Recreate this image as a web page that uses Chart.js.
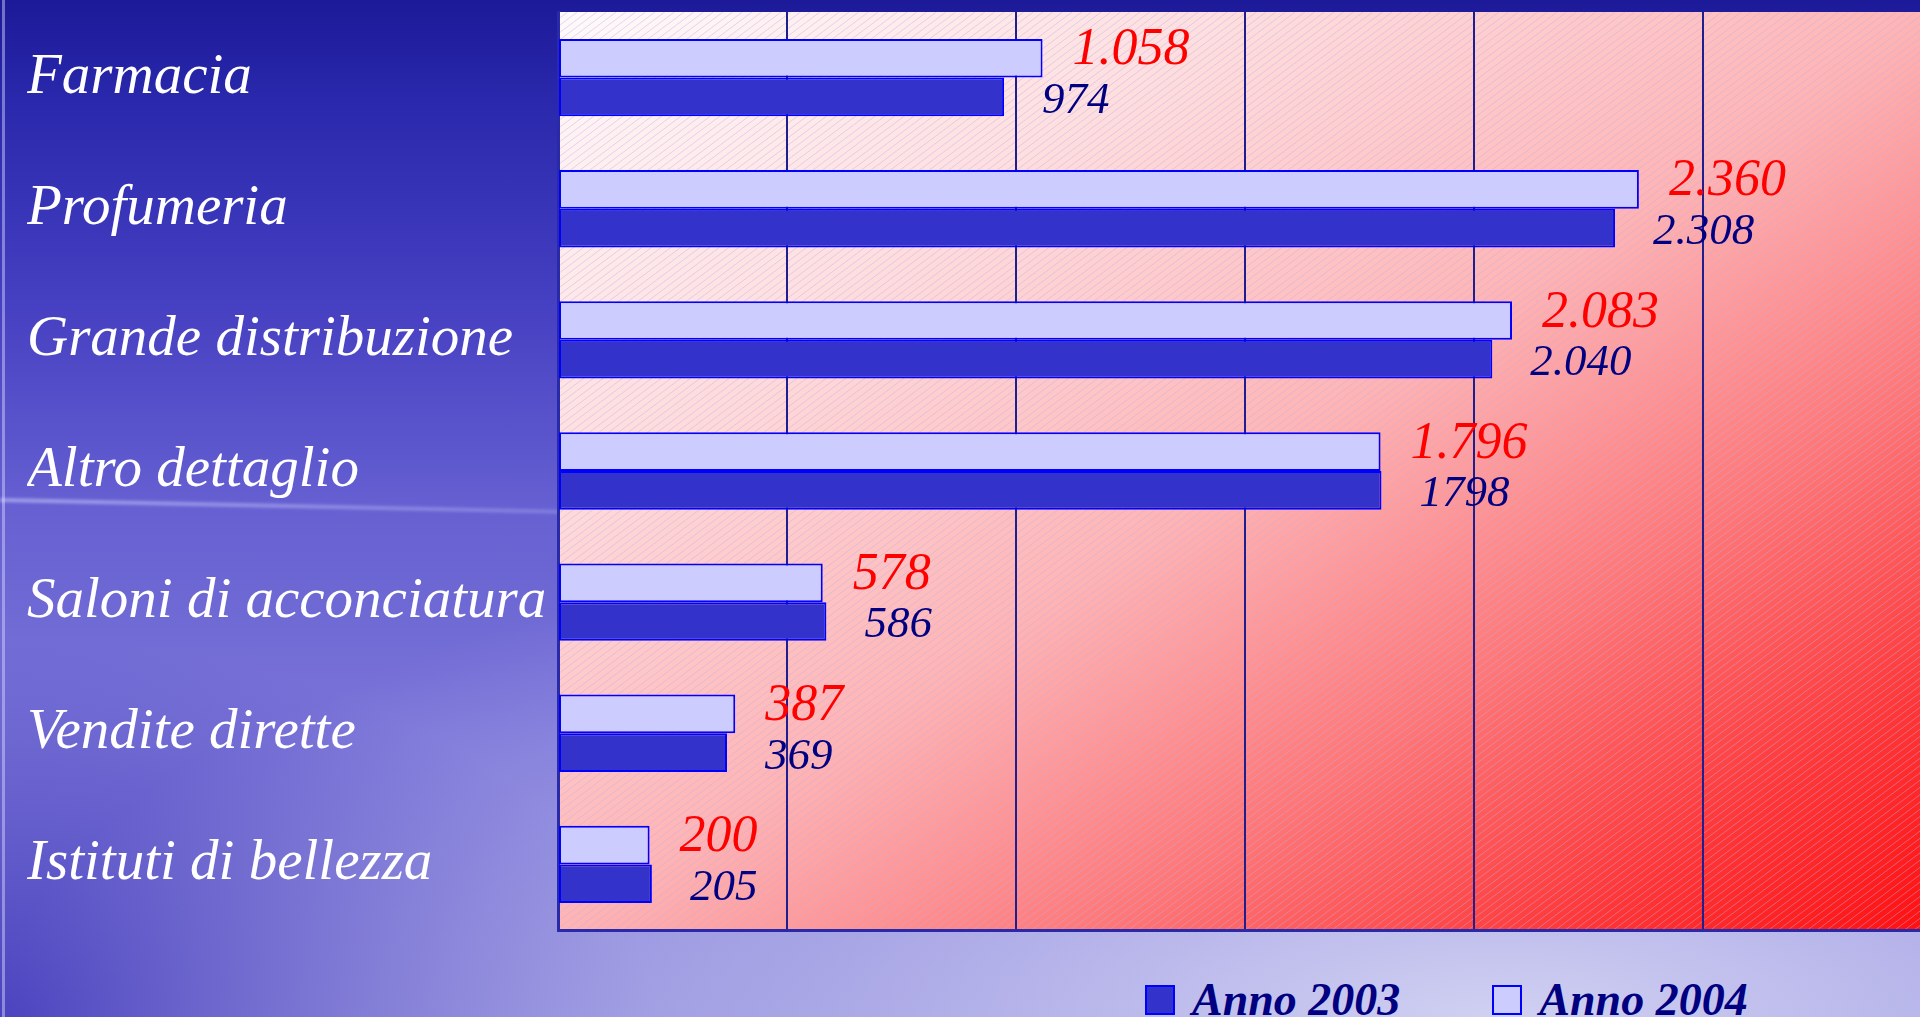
<!DOCTYPE html>
<html lang="it">
  <head>
    <meta charset="UTF-8" />
    <title>Canali di vendita 2003 - 2004</title>
    <script src="https://cdn.jsdelivr.net/npm/chart.js"></script>
    <style>
      html,
      body {
        margin: 0;
        padding: 0;
        width: 1920px;
        height: 1017px;
        overflow: hidden;
      }
      body {
        position: relative;
        background:
          radial-gradient(1500px 520px at 78% 100%, rgba(208, 208, 242, 1) 0%, rgba(200, 200, 240, 0.55) 45%, rgba(200, 200, 240, 0) 100%),
          radial-gradient(650px 380px at 0% 100%, rgba(64, 56, 186, 0.85), rgba(64, 56, 186, 0)),
          linear-gradient(180deg, #1c1a98 0%, #2a28ac 10%, #4640c2 30%, #6660d2 50%, #7a74d8 72%, #8680da 100%);
      }
      .streak {
        position: absolute;
        left: 0;
        top: 498px;
        width: 560px;
        height: 4px;
        background: linear-gradient(90deg, rgba(210, 210, 255, 0.55), rgba(210, 210, 255, 0.25));
        filter: blur(1.5px);
        transform: rotate(1.2deg);
        transform-origin: left center;
      }
      .edge {
        position: absolute;
        left: 2px;
        top: 0;
        width: 3px;
        height: 1017px;
        background: rgba(220, 220, 255, 0.45);
      }
      .chart-container {
        position: absolute;
        left: 0;
        top: 0;
        width: 1932px;
        height: 940px;
      }
      #legend {
        position: absolute;
        left: 1145px;
        top: 973px;
        display: flex;
        align-items: center;
        font-family: "Liberation Serif", serif;
        font-style: italic;
        font-weight: bold;
        font-size: 46px;
        color: #000080;
      }
      #legend .item {
        display: flex;
        align-items: center;
        margin-right: 92px;
      }
      #legend .box {
        width: 26px;
        height: 26px;
        border: 2px solid #0000ff;
        margin-right: 17px;
      }
    </style>
  </head>
  <body>
    <div class="streak"></div>
    <div class="edge"></div>
    <div class="chart-container">
      <canvas id="channelChart"></canvas>
    </div>
    <div id="legend"></div>

    <script>
      const categories = [
        "Farmacia",
        "Profumeria",
        "Grande distribuzione",
        "Altro dettaglio",
        "Saloni di acconciatura",
        "Vendite dirette",
        "Istituti di bellezza",
      ];
      const seriesNames = ["Anno 2003", "Anno 2004"];
      const values2003 = [974, 2308, 2040, 1798, 586, 369, 205];
      const values2004 = [1058, 2360, 2083, 1796, 578, 387, 200];
      // value labels as printed on the slide
      const labels2003 = ["974", "2.308", "2.040", "1798", "586", "369", "205"];
      const labels2004 = ["1.058", "2.360", "2.083", "1.796", "578", "387", "200"];
      const xTicks = [0, 500, 1000, 1500, 2000, 2500, 3000];

      const NAVY = "#1e1e8e";
      const DARK_FILL = "#3333cc";
      const LIGHT_FILL = "#ccccff";

      // pink-to-red gradient with thin diagonal hatching behind the bars
      const plotBackground = {
        id: "plotBackground",
        beforeDraw(chart) {
          const { ctx, chartArea: a } = chart;
          const w = a.right - a.left;
          const h = a.bottom - a.top;
          const k = (2 * w * h) / (w * w + h * h);
          ctx.save();
          const g = ctx.createLinearGradient(a.left, a.top, a.left + h * k, a.top + w * k);
          g.addColorStop(0, "#fffafa");
          g.addColorStop(0.25, "#ffdede");
          g.addColorStop(0.5, "#ffb4b4");
          g.addColorStop(0.7, "#ff7676");
          g.addColorStop(0.87, "#ff3636");
          g.addColorStop(1, "#ff0f0f");
          ctx.fillStyle = g;
          ctx.fillRect(a.left, a.top, w, h);

          ctx.beginPath();
          ctx.rect(a.left, a.top, w, h);
          ctx.clip();
          ctx.strokeStyle = "rgba(185, 175, 240, 0.45)";
          ctx.lineWidth = 1;
          ctx.beginPath();
          const slope = 0.75;
          const run = h / slope;
          for (let x = a.left - run; x < a.right; x += 9.7) {
            ctx.moveTo(x, a.bottom);
            ctx.lineTo(x + run, a.top);
          }
          ctx.stroke();
          ctx.restore();
        },
      };

      const valueLabels = {
        id: "valueLabels",
        afterDatasetsDraw(chart) {
          const ctx = chart.ctx;
          ctx.save();
          ctx.textAlign = "left";
          ctx.textBaseline = "alphabetic";
          chart.data.datasets.forEach((ds, i) => {
            const meta = chart.getDatasetMeta(i);
            ctx.fillStyle = ds.labelColor;
            ctx.font = ds.labelFont;
            meta.data.forEach((bar, j) => {
              ctx.fillText(ds.valueLabels[j], bar.x + ds.labelGap, bar.y + ds.labelDrop);
            });
          });
          ctx.restore();
        },
      };

      const ctx = document.getElementById("channelChart").getContext("2d");
      const channelChart = new Chart(ctx, {
        type: "bar",
        data: {
          labels: categories,
          datasets: [
            {
              label: seriesNames[1],
              data: values2004,
              backgroundColor: LIGHT_FILL,
              borderColor: "#0000ff",
              borderWidth: 2,
              borderSkipped: false,
              valueLabels: labels2004,
              labelColor: "#ff0000",
              labelFont: "italic 52px 'Liberation Serif'",
              labelGap: 30,
              labelDrop: 6,
            },
            {
              label: seriesNames[0],
              data: values2003,
              backgroundColor: DARK_FILL,
              borderColor: "#0000ff",
              borderWidth: 2,
              borderSkipped: false,
              valueLabels: labels2003,
              labelColor: "#000080",
              labelFont: "italic 45px 'Liberation Serif'",
              labelGap: 38,
              labelDrop: 16,
            },
          ],
        },
        options: {
          indexAxis: "y",
          responsive: true,
          maintainAspectRatio: false,
          animation: false,
          layout: {
            padding: { left: 27, top: 12, right: 0, bottom: 10 },
          },
          datasets: {
            bar: {
              categoryPercentage: 0.59,
              barPercentage: 1.0,
            },
          },
          plugins: {
            legend: { display: false },
            tooltip: { enabled: false },
          },
          scales: {
            x: {
              min: 0,
              max: 3000,
              afterBuildTicks: (scale) => {
                scale.ticks = xTicks.map((v) => ({ value: v }));
              },
              afterFit: (scale) => {
                scale.paddingLeft = 0;
                scale.paddingRight = 0;
              },
              ticks: { display: false },
              grid: {
                color: NAVY,
                lineWidth: 2,
                drawTicks: false,
              },
              border: { display: true, color: "#2a2aa8", width: 3 },
            },
            y: {
              afterFit: (scale) => {
                scale.width = 531;
                scale.paddingTop = 0;
                scale.paddingBottom = 0;
              },
              ticks: {
                color: "#ffffff",
                crossAlign: "far",
                font: {
                  family: "'Liberation Serif', serif",
                  style: "italic",
                  size: 57,
                },
              },
              grid: { display: false },
              border: { display: true, color: "#2a2aa8", width: 3 },
            },
          },
        },
        plugins: [plotBackground, valueLabels],
      });

      // legend below the plot, 2003 first
      const legendEl = document.getElementById("legend");
      [
        { name: seriesNames[0], fill: DARK_FILL },
        { name: seriesNames[1], fill: LIGHT_FILL },
      ].forEach((s) => {
        const item = document.createElement("div");
        item.className = "item";
        const box = document.createElement("span");
        box.className = "box";
        box.style.background = s.fill;
        const text = document.createElement("span");
        text.textContent = s.name;
        item.appendChild(box);
        item.appendChild(text);
        legendEl.appendChild(item);
      });
    </script>
  </body>
</html>
